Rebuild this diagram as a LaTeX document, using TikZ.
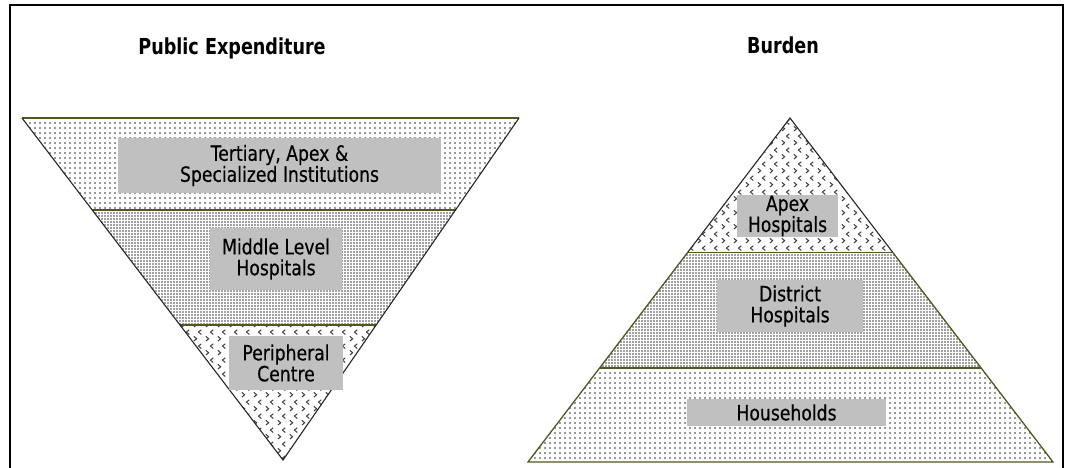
\documentclass[tikz,border=0pt]{standalone}
\usepackage{fontspec}
\setmainfont{DejaVu Sans}
\newfontfamily\condfont[FakeStretch=0.82,FakeBold=0.4]{DejaVu Sans}
\newfontfamily\condbold[FakeStretch=0.80]{DejaVu Sans Bold}
\usetikzlibrary{patterns,patterns.meta,calc}
\definecolor{edgeol}{RGB}{85,85,35}
\definecolor{boxgray}{RGB}{192,192,192}
\pgfdeclarepatternformonly{chev}{\pgfqpoint{0pt}{0pt}}{\pgfqpoint{12pt}{14pt}}{\pgfqpoint{12pt}{14pt}}{%
  \pgfsetlinewidth{1.1pt}%
  \pgfpathmoveto{\pgfqpoint{2pt}{6pt}}\pgfpathlineto{\pgfqpoint{5pt}{3.5pt}}\pgfpathlineto{\pgfqpoint{2pt}{1pt}}%
  \pgfpathmoveto{\pgfqpoint{10pt}{13pt}}\pgfpathlineto{\pgfqpoint{7pt}{10.5pt}}\pgfpathlineto{\pgfqpoint{10pt}{8pt}}%
  \pgfusepath{stroke}}
\tikzset{
  sparse/.style={pattern={Dots[distance=5pt,radius=0.9pt]},pattern color=black!80},
  dense/.style={pattern={Dots[distance=3pt,radius=0.8pt]},pattern color=black!75},
  chevs/.style={pattern=chev,pattern color=black!75},
  band/.style={draw=edgeol,line width=1.3pt},
  outline/.style={draw=black!85,line width=1.1pt,line join=miter},
  lbl/.style={fill=boxgray,inner sep=0pt,align=center,font=\condfont\fontsize{21}{21}\selectfont},
  hdr/.style={font=\condbold\fontsize{22}{24}\selectfont}
}
\begin{document}
\begin{tikzpicture}[x=1pt,y=-1pt]
\useasboundingbox (0,0) rectangle (1065,468);
% frame
\draw[line width=2pt] (10,470) -- (10,5) -- (1063,5) -- (1063,470);
% left inverted triangle
\coordinate (TL) at (22,118);
\coordinate (TR) at (519,118);
\coordinate (AP) at (283,460);
\coordinate (L1) at ($(TL)!0.269!(AP)$);
\coordinate (R1) at ($(TR)!0.269!(AP)$);
\coordinate (L2) at ($(TL)!0.605!(AP)$);
\coordinate (R2) at ($(TR)!0.605!(AP)$);
\fill[sparse] (TL) -- (TR) -- (R1) -- (L1) -- cycle;
\fill[dense] (L1) -- (R1) -- (R2) -- (L2) -- cycle;
\fill[chevs] (L2) -- (R2) -- (AP) -- cycle;
\draw[band] (L1) -- (R1);
\draw[band] (L2) -- (R2);
\draw[band] (TL) -- (TR);
\draw[outline] (TR) -- (AP) -- (TL);
% right triangle
\coordinate (BA) at (790,118);
\coordinate (BL) at (528,462);
\coordinate (BR) at (1053,462);
\coordinate (P1) at ($(BA)!0.392!(BL)$);
\coordinate (Q1) at ($(BA)!0.392!(BR)$);
\coordinate (P2) at ($(BA)!0.727!(BL)$);
\coordinate (Q2) at ($(BA)!0.727!(BR)$);
\fill[chevs] (BA) -- (Q1) -- (P1) -- cycle;
\fill[dense] (P1) -- (Q1) -- (Q2) -- (P2) -- cycle;
\fill[sparse] (P2) -- (Q2) -- (BR) -- (BL) -- cycle;
\draw[outline] (P1) -- (BA) -- (Q1);
\draw[band] (P1) -- (Q1);
\draw[band] (P2) -- (Q2);
\draw[band] (P1) -- (BL) -- (BR) -- (Q1);
% labels
\node[lbl,minimum width=323pt,minimum height=55pt] (ter) at (279.5,165.5) {Tertiary, Apex \&\\Specialized Institutions};
\node[lbl,minimum width=132pt,minimum height=62pt] (mid) at (276,259) {Middle Level\\Hospitals};
\node[lbl,minimum width=114pt,minimum height=54pt] (per) at (286,363) {Peripheral\\Centre};
\node[lbl,minimum width=101pt,minimum height=42pt] (apx) at (787.5,216) {Apex\\Hospitals};
\node[lbl,minimum width=146pt,minimum height=52pt] (dis) at (790,306) {District\\Hospitals};
\node[lbl,minimum width=199pt,minimum height=27pt] (hh) at (786.5,412.5) {Households};
% headers
\node[hdr] (h1) at (232,48) {Public Expenditure};
\node[hdr] (h2) at (783,45) {Burden};
\end{tikzpicture}
\end{document}
